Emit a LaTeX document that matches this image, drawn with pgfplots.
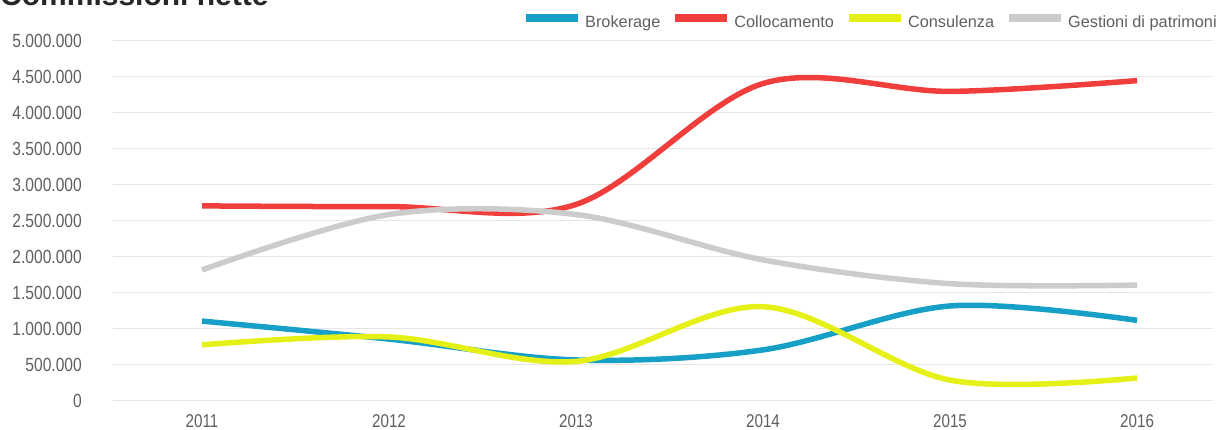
\documentclass[border=0pt]{standalone}
\usepackage{fontspec}
\setmainfont{Liberation Sans}
\newfontfamily\narrow[FakeStretch=0.82]{Liberation Sans}
\usepackage{pgfplots}
\pgfplotsset{compat=1.18}

\definecolor{cBrok}{RGB}{22,160,200}
\definecolor{cColl}{RGB}{240,62,60}
\definecolor{cCons}{RGB}{228,240,22}
\definecolor{cGest}{RGB}{204,204,204}
\definecolor{cText}{RGB}{95,95,95}
\definecolor{cGrid}{RGB}{230,230,230}

\begin{document}
\begin{tikzpicture}
\node[anchor=base west, inner sep=0pt, text=black!85] at (0pt,424pt)
  {\fontsize{30}{32}\selectfont\bfseries Commissioni nette};

\begin{axis}[
    at={(113pt,29pt)}, anchor=south west,
    scale only axis,
    width=1100pt, height=360pt,
    xmin=2010.524, xmax=2016.406,
    ymin=0, ymax=5000000,
    xtick={2011,2012,2013,2014,2015,2016},
    xticklabels={2011,2012,2013,2014,2015,2016},
    ytick={0,500000,1000000,1500000,2000000,2500000,3000000,3500000,4000000,4500000,5000000},
    yticklabels={0,500.000,1.000.000,1.500.000,2.000.000,2.500.000,3.000.000,3.500.000,4.000.000,4.500.000,5.000.000},
    scaled y ticks=false,
    axis line style={draw=none},
    major tick length=0pt,
    ymajorgrids=true,
    grid style={cGrid, line width=1pt},
    yticklabel style={font=\narrow\fontsize{19}{20}\selectfont, text=cText, inner sep=0pt, anchor=east},
    xticklabel style={font=\narrow\fontsize{18.5}{19}\selectfont, text=cText, inner sep=0pt, anchor=north},
    yticklabel shift=31pt,
    xticklabel shift=13pt,
    legend columns=4,
    legend style={draw=none, fill=none, at={(0.3718,1.0)}, anchor=south west,
        yshift=12pt,
        font=\fontsize{16.3}{17}\selectfont, text=cText,
        column sep=0pt, inner sep=0pt,
        nodes={inner sep=0pt},
        /tikz/every odd column/.append style={column sep=3pt},
        /tikz/every even column/.append style={column sep=11pt}},
    legend image code/.code={\draw[line width=8pt] (0pt,0.38em) -- (52pt,0.38em);},
    every axis plot/.append style={line width=5.5pt, smooth, tension=0.55, no markers},
]

\addplot[cBrok] coordinates {(2011,1110000)(2012,860000)(2013,570000)(2014,710000)(2015,1320000)(2016,1120000)};
\addlegendentry{Brokerage}
\addplot[cColl] coordinates {(2011,2710000)(2012,2700000)(2013,2730000)(2014,4410000)(2015,4300000)(2016,4450000)};
\addlegendentry{Collocamento}
\addplot[cCons] coordinates {(2011,780000)(2012,890000)(2013,550000)(2014,1310000)(2015,290000)(2016,320000)};
\addlegendentry{Consulenza}
\addplot[cGest] coordinates {(2011,1820000)(2012,2590000)(2013,2590000)(2014,1960000)(2015,1630000)(2016,1610000)};
\addlegendentry{Gestioni di patrimoni}
\end{axis}

\pgfresetboundingbox
\useasboundingbox (0pt,0pt) rectangle (1223pt,430pt);
\end{tikzpicture}
\end{document}
